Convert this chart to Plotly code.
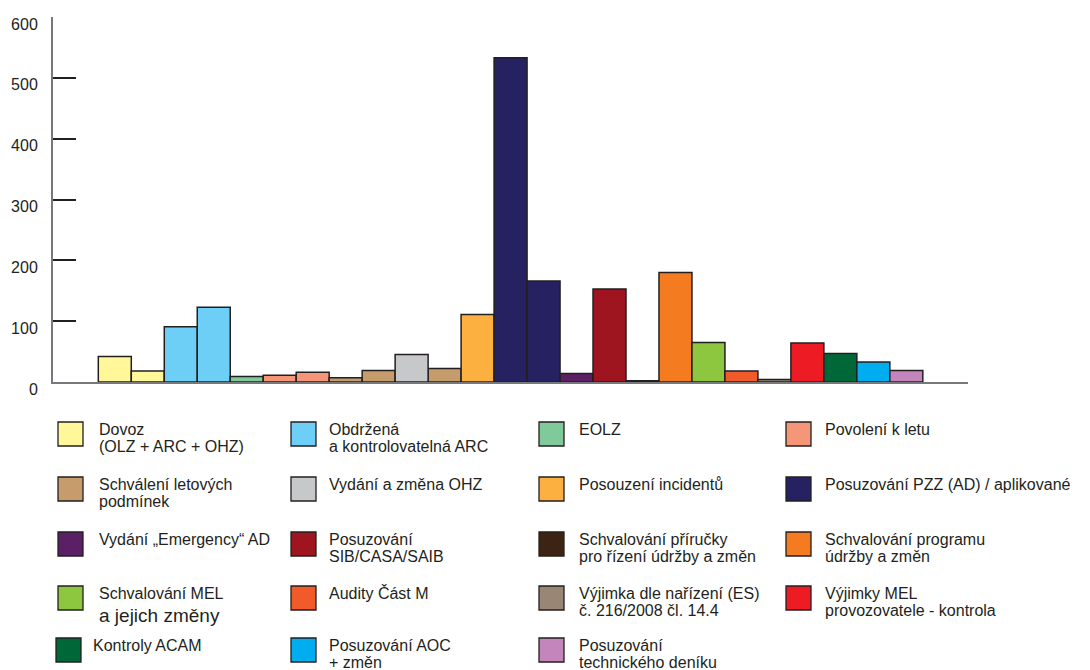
import plotly.graph_objects as go

# ---- data ----
categories = [
    ["Dovoz", "(OLZ + ARC + OHZ)"],
    ["Obdržená", "a kontrolovatelná ARC"],
    ["EOLZ"],
    ["Povolení k letu"],
    ["Schválení letových", "podmínek"],
    ["Vydání a změna OHZ"],
    ["Posouzení incidentů"],
    ["Posuzování PZZ (AD) / aplikované"],
    ["Vydání „Emergency“ AD"],
    ["Posuzování", "SIB/CASA/SAIB"],
    ["Schvalování příručky", "pro řízení údržby a změn"],
    ["Schvalování programu", "údržby a změn"],
    ["Schvalování MEL", "a jejich změny"],
    ["Audity Část M"],
    ["Výjimka dle nařízení (ES)", "č. 216/2008 čl. 14.4"],
    ["Výjimky MEL", "provozovatele - kontrola"],
    ["Kontroly ACAM"],
    ["Posuzování AOC", "+ změn"],
    ["Posuzování", "technického deníku"],
]
category_colors = [
    "#fff799", "#6dcff6", "#7fc99b", "#f69679", "#c69c6d", "#c7c8ca",
    "#fbb040", "#262262", "#5b1f66", "#9e1520", "#3c2415", "#f47b20",
    "#8dc63f", "#f15a29", "#998675", "#ed1c24", "#006838", "#00aeef",
    "#c385bb",
]
bar_values = [42, 18, 91, 123, 9, 11, 16, 7, 19, 45, 22, 111, 533, 166,
              14, 153, 2, 180, 65, 18, 4, 64, 47, 33, 19]
bar_category = [0, 0, 1, 1, 2, 3, 3, 4, 4, 5, 4, 6, 7, 7, 8, 9, 10, 11,
                12, 13, 14, 15, 16, 17, 18]
y_ticks = [0, 100, 200, 300, 400, 500, 600]

# ---- layout constants (pixels) ----
W, H = 1090, 670
L, R, T, B = 53, 968, 17, 382


def px(x):
    return (x - L) / (R - L)


def py(y):
    return (B - y) / (B - T)


TXT = "#231f20"
FONT = "Liberation Sans, Arial, sans-serif"

fig = go.Figure()
for ci, name in enumerate(categories):
    xs = [i for i, c in enumerate(bar_category) if c == ci]
    ys = [bar_values[i] for i in xs]
    fig.add_trace(go.Bar(
        x=xs, y=ys, width=1,
        name=" ".join(name),
        marker=dict(color=category_colors[ci],
                    line=dict(color=TXT, width=1.5)),
        showlegend=False,
    ))

# ---- manual legend (4 columns) ----
col_swatch = [58, 291, 539, 786]
col_text = [97, 327, 577, 823]
row_top = [422, 477, 532, 586, 638]
sw = 25
shapes = []
annotations = []
for i, lines in enumerate(categories):
    r, c = divmod(i, 4)
    sx = col_swatch[c]
    tx = col_text[c]
    if i == 16:
        sx, tx = 56, 91
    top = row_top[r]
    shapes.append(dict(
        type="rect", xref="paper", yref="paper",
        x0=px(sx), x1=px(sx + sw), y0=py(top), y1=py(top + 24),
        fillcolor=category_colors[i], line=dict(color=TXT, width=1.3),
    ))
    for k, line in enumerate(lines):
        size = 16
        yy = top + 7 + 17.5 * k
        if i == 12 and k == 1:
            size = 19
            yy = top + 29
        annotations.append(dict(
            text=line, xref="paper", yref="paper",
            x=px(tx), y=py(yy), xanchor="left", yanchor="middle",
            showarrow=False, font=dict(size=size, color=TXT, family=FONT),
        ))

fig.update_layout(
    width=W, height=H,
    margin=dict(l=L, r=W - R, t=T, b=H - B, pad=0, autoexpand=False),
    paper_bgcolor="white", plot_bgcolor="white",
    barmode="overlay",
    font=dict(family=FONT, color=TXT),
    shapes=shapes, annotations=annotations,
    xaxis=dict(range=[-1.874, 25.87], showgrid=False, zeroline=False,
               showticklabels=False, ticks="", showline=True,
               linecolor="#77787b", linewidth=2, fixedrange=True,
               automargin=False),
    yaxis=dict(range=[0, 600], tickvals=y_ticks, showgrid=False,
               zeroline=False, showline=True, linecolor="#77787b",
               linewidth=2, ticks="inside", ticklen=23, tickwidth=1.5,
               tickcolor=TXT, tickfont=dict(size=16, color=TXT, family=FONT),
               ticklabelstandoff=10, ticklabelshift=7, fixedrange=True,
               automargin=False),
)

fig.write_html(
    "out.html",
    config={"displayModeBar": False},
    post_script="document.body.style.margin='0';"
                "document.body.style.overflow='hidden';",
)
